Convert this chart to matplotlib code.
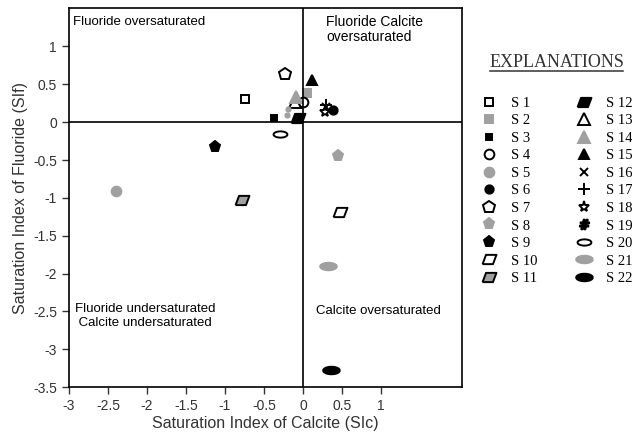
import numpy as np
import matplotlib
matplotlib.use("Agg")
import matplotlib.pyplot as plt

# sample names and (SIc, SIf) values
names = ["S 1", "S 2", "S 3", "S 4", "S 5", "S 6", "S 7", "S 8", "S 9", "S 10", "S 11",
         "S 12", "S 13", "S 14", "S 15", "S 16", "S 17", "S 18", "S 19", "S 20", "S 21", "S 22"]
sic = [-0.74, 0.05, -0.37, 0.0, -2.4, 0.38, -0.23, 0.45, -1.13, 0.47, -0.78,
       -0.06, -0.1, -0.09, 0.12, 0.3, 0.3, 0.29, None, -0.29, 0.32, 0.36]
sif = [0.31, 0.38, 0.06, 0.27, -0.91, 0.16, 0.64, -0.44, -0.33, -1.18, -1.03,
       0.06, 0.27, 0.33, 0.56, 0.2, 0.23, 0.14, None, -0.15, -1.9, -3.27]
# extra small grey dots in the cluster near the origin
grey_x = [-0.19, -0.2]
grey_y = [0.18, 0.09]

para = [(-0.9, -0.6), (0.45, -0.6), (0.9, 0.6), (-0.45, 0.6), (-0.9, -0.6)]
t = np.linspace(0, 2*np.pi, 40)
ell = list(zip(np.cos(t), 0.45*np.sin(t)))

G = "#a0a0a0"
styles = [("s", "white", 6), ("s", G, 6), ("s", "black", 5), ("o", "white", 7), ("o", G, 7),
          ("o", "black", 6), ("p", "white", 9), ("p", G, 8), ("p", "black", 8),
          (para, "white", 10), (para, G, 10), (para, "black", 10), ("^", "white", 8),
          ("^", G, 8), ("^", "black", 7), ("x", "black", 6), ("+", "black", 8),
          ("*", "white", 8), ("$\\#$", "black", 7), (ell, "white", 10), (ell, G, 12),
          (ell, "black", 12)]

plt.rcParams["font.family"] = ["Liberation Sans", "DejaVu Sans"]
fig = plt.figure(figsize=(6.32, 4.38), dpi=100)
ax = fig.add_axes([0.109, 0.116, 0.622, 0.866])

for i in range(len(names)):
    m, fc, ms = styles[i]
    ec = G if fc == G and m is not para else "black"
    xs = [] if sic[i] is None else [sic[i]]
    ys = [] if sif[i] is None else [sif[i]]
    ax.plot(xs, ys, ls="none", marker=m, ms=ms, mfc=fc, mec=ec, mew=1.4, label=names[i])
ax.plot(grey_x, grey_y, ls="none", marker="o", ms=3.5, color=G)

ax.axhline(0, color="black", lw=1.2)
ax.axvline(0, color="black", lw=1.2)
ax.set_xlim(-3, 2.04)
ax.set_ylim(-3.5, 1.51)
ax.set_xticks([-3, -2.5, -2, -1.5, -1, -0.5, 0, 0.5, 1])
ax.set_xticklabels(["-3", "-2.5", "-2", "-1.5", "-1", "-0.5", "0", "0.5", "1"])
ax.set_yticks([-3.5, -3, -2.5, -2, -1.5, -1, -0.5, 0, 0.5, 1])
ax.set_yticklabels(["-3.5", "-3", "-2.5", "-2", "-1.5", "-1", "-0.5", "0", "0.5", "1"])
ax.tick_params(labelsize=10, length=5, width=1, colors="#333333", labelcolor="#333333")
for s in ax.spines.values():
    s.set_linewidth(1.2)
ax.set_xlabel("Saturation Index of Calcite (SIc)", fontsize=11.5, color="#333333", labelpad=2)
ax.set_ylabel("Saturation Index of Fluoride (SIf)", fontsize=11.5, color="#333333", labelpad=4)

ax.text(-2.95, 1.33, "Fluoride oversaturated", fontsize=9.5, va="center")
ax.text(0.3, 1.22, "Fluoride Calcite\noversaturated", fontsize=10, va="center", linespacing=1.1)
ax.text(-2.92, -2.56, "Fluoride undersaturated\n Calcite undersaturated", fontsize=9.5,
        va="center", linespacing=1.3)
ax.text(0.17, -2.5, "Calcite oversaturated", fontsize=9.5, va="center")

leg = ax.legend(ncol=2, loc="upper left", bbox_to_anchor=(1.028, 0.785), frameon=False,
                prop={"family": "Liberation Serif", "size": 10.5}, handlelength=1.2,
                handletextpad=0.9, columnspacing=2.6, labelspacing=0.295, borderpad=0)
fig.text(0.881, 0.858, "EXPLANATIONS", family="Liberation Serif", fontsize=13,
         ha="center", va="center", color="#333333")
fig.add_artist(plt.Line2D([0.776, 0.986], [0.838, 0.838], color="#333333", lw=1.1))

fig.savefig("out.png", dpi=100)
